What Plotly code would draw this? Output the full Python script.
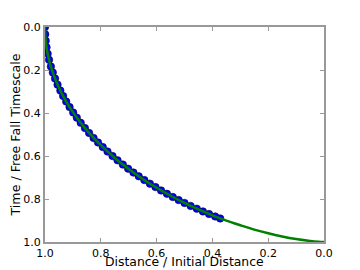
import plotly.graph_objects as go

# Simulation markers (distance / initial distance, time / free-fall time)
sim_r = [1.0, 0.9993, 0.9975, 0.9945, 0.9905, 0.9855, 0.979, 0.972, 0.964, 0.955,
         0.945, 0.935, 0.924, 0.912, 0.899, 0.886, 0.872, 0.857, 0.842, 0.826,
         0.810, 0.793, 0.776, 0.758, 0.740, 0.721, 0.702, 0.683, 0.664, 0.644,
         0.624, 0.604, 0.584, 0.563, 0.542, 0.521, 0.500, 0.478, 0.456, 0.434,
         0.412, 0.390, 0.372]
sim_t = [0.0, 0.0337, 0.0637, 0.0944, 0.1239, 0.1529, 0.1839, 0.2120, 0.2401, 0.2681,
         0.2959, 0.3211, 0.3466, 0.3722, 0.3978, 0.4217, 0.4458, 0.4700, 0.4928, 0.5157,
         0.5369, 0.5587, 0.5793, 0.6002, 0.6200, 0.6399, 0.6590, 0.6770, 0.6944, 0.7119,
         0.7287, 0.7447, 0.7602, 0.7757, 0.7906, 0.8049, 0.8183, 0.8320, 0.8451, 0.8577,
         0.8697, 0.8811, 0.8905]

# Analytic free-fall curve
curve_r = [1.0, 0.9998, 0.999, 0.995, 0.99, 0.98, 0.97, 0.95, 0.925, 0.9, 0.875, 0.85,
           0.8, 0.75, 0.7, 0.65, 0.6, 0.55, 0.5, 0.45, 0.4, 0.35, 0.3, 0.25, 0.2,
           0.15, 0.1, 0.05, 0.02, 0.0]
curve_t = [0.0, 0.0180, 0.0403, 0.0900, 0.1271, 0.1795, 0.2194, 0.2823, 0.3443, 0.3958,
           0.4405, 0.4805, 0.5498, 0.6090, 0.6607, 0.7067, 0.7478, 0.7848, 0.8183, 0.8486,
           0.8760, 0.9006, 0.9221, 0.9423, 0.9595, 0.9741, 0.9861, 0.9952, 0.9988, 1.0]

tick_vals = [0.0, 0.2, 0.4, 0.6, 0.8, 1.0]
tick_text = ["0.0", "0.2", "0.4", "0.6", "0.8", "1.0"]
x_title = "Distance / Initial Distance"
y_title = "Time / Free Fall Timescale"

fig = go.Figure()
fig.add_trace(go.Scatter(
    x=sim_r, y=sim_t, mode="markers",
    marker=dict(size=7.5, color="#0000ff", line=dict(color="#000000", width=0.5)),
    showlegend=False,
))
fig.add_trace(go.Scatter(
    x=curve_r, y=curve_t, mode="lines",
    line=dict(color="#008000", width=2.5, shape="spline"),
    showlegend=False,
))

axis_common = dict(
    showgrid=False, zeroline=False, automargin=False,
    showline=True, linecolor="#999999", linewidth=2, mirror="ticks",
    ticks="inside", ticklen=4, tickwidth=1, tickcolor="#999999",
    tickvals=tick_vals, ticktext=tick_text,
    tickfont=dict(family="DejaVu Sans", size=11, color="#000000"),
)

fig.update_layout(
    width=360, height=270,
    margin=dict(l=45, r=36, t=27, b=28),
    paper_bgcolor="white", plot_bgcolor="white",
    xaxis=dict(range=[1.0, 0.0], **axis_common),
    yaxis=dict(range=[1.0, 0.0], title=dict(text=y_title,
               font=dict(family="DejaVu Sans", size=12.6, color="#000000"), standoff=0),
               **axis_common),
    annotations=[dict(
        text=x_title, xref="paper", yref="paper", x=0.5, y=0,
        xanchor="center", yanchor="middle", yshift=-19.5, showarrow=False,
        borderpad=0,
        font=dict(family="DejaVu Sans", size=12.4, color="#000000"),
    )],
)

fig.write_html("out.html", config={"displayModeBar": False},
               post_script="document.body.style.margin='0';")
